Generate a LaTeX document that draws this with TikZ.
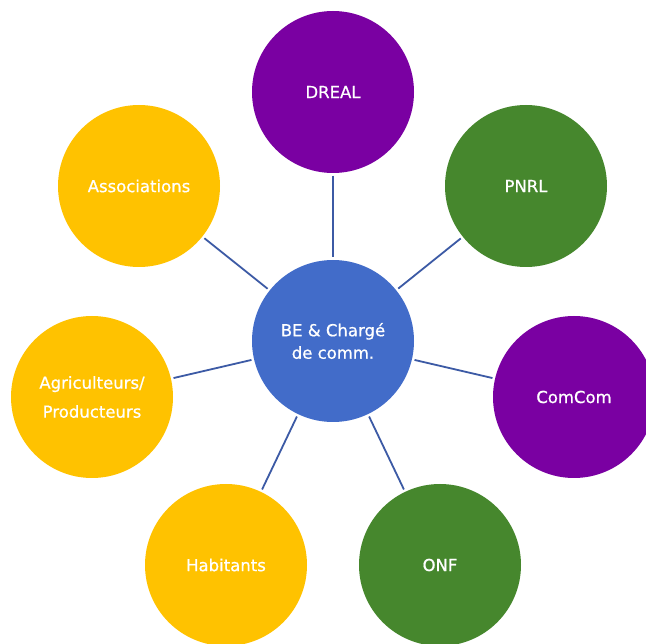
\documentclass[tikz,border=0pt]{standalone}
\usepackage{fontspec}
\setmainfont{DejaVu Sans}
\newfontfamily\labfont{DejaVu Sans}[FakeBold=0.7]
\definecolor{cpurple}{RGB}{122,0,162}
\definecolor{cgreen}{RGB}{70,135,45}
\definecolor{cyellow}{RGB}{255,194,0}
\definecolor{cblue}{RGB}{66,108,201}
\definecolor{cline}{RGB}{60,90,165}
\tikzset{
  bubble/.style={circle, minimum size=162pt, inner sep=0pt, text=white,
    font=\labfont\fontsize{16.5}{29}\selectfont, align=center},
  link/.style={draw=cline, line width=1.8pt, shorten >=2.5pt, shorten <=2.5pt}
}
\begin{document}
\begin{tikzpicture}[x=1pt,y=-1pt]
\useasboundingbox (0,0) rectangle (646,644);
\clip (0,0) rectangle (646,644);
\fill[white] (0,0) rectangle (646,644);
\node[bubble, fill=cblue, font=\labfont\fontsize{16.5}{22.5}\selectfont] (c) at (333,341) {BE \& Chargé\\de comm.};
\node[bubble, fill=cpurple] (dreal) at (333,92) {DREAL};
\node[bubble, fill=cgreen] (pnrl) at (526,186) {PNRL};
\node[bubble, fill=cpurple] (comcom) at (574,397) {ComCom};
\node[bubble, fill=cgreen] (onf) at (440,565) {ONF};
\node[bubble, fill=cyellow] (hab) at (226,565) {Habitants};
\node[bubble, fill=cyellow] (agri) at (92,397) {Agriculteurs/\\Producteurs};
\node[bubble, fill=cyellow] (asso) at (139,186) {Associations};
\foreach \n in {dreal,pnrl,comcom,onf,hab,agri,asso}
  \path[link] (\n) -- (c);
\end{tikzpicture}
\end{document}
